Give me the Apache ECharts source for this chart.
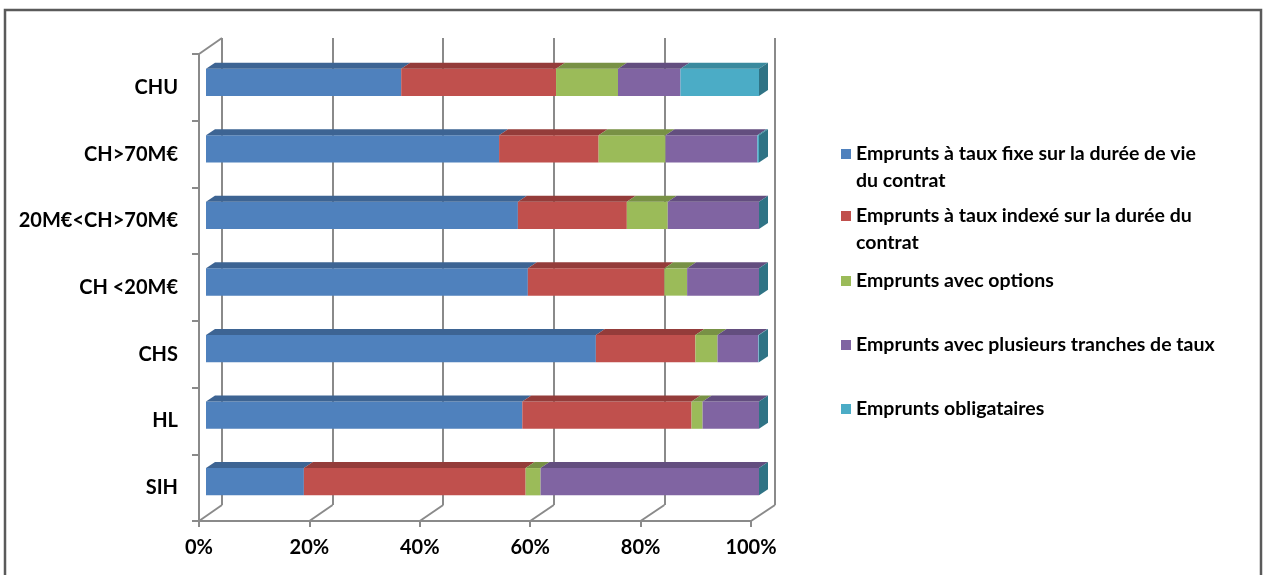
<!DOCTYPE html>
<html>
<head>
<meta charset="utf-8">
<script src="https://cdn.jsdelivr.net/npm/echarts@6/dist/echarts.min.js"></script>
<style>
  html, body { margin: 0; padding: 0; background: #fff; }
  #chart { width: 1263px; height: 575px; }
</style>
</head>
<body>
<div id="chart"></div>
<script>
// categories, top to bottom
var categories = ['CHU', 'CH>70M€', '20M€<CH>70M€', 'CH <20M€', 'CHS', 'HL', 'SIH'];

var seriesNames = [
  'Emprunts à taux fixe sur la durée de vie du contrat',
  'Emprunts à taux indexé sur la durée du contrat',
  'Emprunts avec options',
  'Emprunts avec plusieurs tranches de taux',
  'Emprunts obligataires'
];
var legendLabels = [
  'Emprunts à taux fixe sur la durée de vie\ndu contrat',
  'Emprunts à taux indexé sur la durée du\ncontrat',
  'Emprunts avec options',
  'Emprunts avec plusieurs tranches de taux',
  'Emprunts obligataires'
];

// shares in %, same order as categories
var tauxFixe     = [35.3, 53.0, 56.4, 58.2, 70.5, 57.2, 17.7];
var tauxIndexe   = [28.0, 18.0, 19.7, 24.7, 18.0, 30.6, 40.1];
var avecOptions  = [11.2, 12.1,  7.4,  4.1,  4.0,  2.0,  2.7];
var plusTranches = [11.3, 16.6, 16.5, 13.0,  7.4, 10.2, 39.5];
var obligataires = [14.2,  0.3,  0.0,  0.0,  0.1,  0.0,  0.0];

var xTicks = [0, 20, 40, 60, 80, 100];

var allValues = [tauxFixe, tauxIndexe, avecOptions, plusTranches, obligataires];
var frontColors = ['#4f81bd', '#c0504d', '#9bbb59', '#8064a2', '#4bacc6'];
var topColors   = ['#3d6493', '#943c3a', '#789145', '#634e7f', '#3a8a9e'];
var sideColor   = '#2f7385';
var DX = 9, DY = 6;

var font = 'Lato, "Open Sans", sans-serif';
var gridColor = '#8a8a8a';

// cumulative start/end per segment
var cum = categories.map(function () { return 0; });
var segData = allValues.map(function (vals) {
  return vals.map(function (v, c) {
    var s = cum[c];
    cum[c] += v;
    return [s, cum[c], c];
  });
});

function makeRender(idx) {
  return function (params, api) {
    var a = api.coord([api.value(0), api.value(2)]);
    var b = api.coord([api.value(1), api.value(2)]);
    var h = api.size([0, 1])[1] * 0.41;
    var yt = a[1] - h / 2, yb = a[1] + h / 2;
    var kids = [];
    if (b[0] - a[0] > 0.01) {
      kids.push({ type: 'rect', shape: { x: a[0], y: yt, width: b[0] - a[0], height: h },
        style: { fill: frontColors[idx] } });
      kids.push({ type: 'polygon',
        shape: { points: [[a[0], yt], [b[0], yt], [b[0] + DX, yt - DY], [a[0] + DX, yt - DY]] },
        style: { fill: topColors[idx] } });
    }
    if (idx === allValues.length - 1) {
      kids.push({ type: 'polygon',
        shape: { points: [[b[0], yt], [b[0] + DX, yt - DY], [b[0] + DX, yb - DY], [b[0], yb]] },
        style: { fill: sideColor } });
    }
    return { type: 'group', children: kids };
  };
}

var legendCenters = [154, 216, 281, 345, 409];

var chart = echarts.init(document.getElementById('chart'));

var option = {
  animation: false,
  backgroundColor: '#fff',
  grid: [
    { left: 206, top: 49, width: 553, height: 466 },   // bars
    { left: 222, top: 38, width: 553, height: 467 },   // back wall
    { left: 199, top: 54, width: 552, height: 467 }    // front plane axes
  ],
  xAxis: [
    { gridIndex: 0, type: 'value', min: 0, max: 100, show: false },
    { gridIndex: 1, type: 'value', min: 0, max: 100, interval: 20,
      axisLine: { show: false }, axisTick: { show: false }, axisLabel: { show: false },
      splitLine: { show: true, lineStyle: { color: gridColor, width: 2 } } },
    { gridIndex: 2, type: 'value', min: 0, max: 100, interval: 20,
      splitLine: { show: false },
      axisLine: { show: true, lineStyle: { color: gridColor, width: 2 } },
      axisTick: { show: true, length: 6, lineStyle: { color: gridColor, width: 2 } },
      axisLabel: { margin: 17, color: '#000', fontFamily: font, fontWeight: 'bold', fontSize: 20,
        formatter: function (v) { return v + '%'; } } }
  ],
  yAxis: [
    { gridIndex: 0, type: 'category', data: categories, inverse: true, show: false },
    { gridIndex: 1, type: 'category', data: categories, inverse: true, show: false },
    { gridIndex: 2, type: 'category', data: categories, inverse: true,
      axisLine: { show: true, lineStyle: { color: gridColor, width: 2 } },
      axisTick: { show: true, length: 7, lineStyle: { color: gridColor, width: 2 } },
      axisLabel: { margin: 21, color: '#000', fontFamily: font, fontWeight: 'bold', fontSize: 20,
        padding: [3, 0, 0, 0] } }
  ],
  legend: seriesNames.map(function (n, i) {
    var two = legendLabels[i].indexOf('\n') >= 0;
    return {
      data: [n], left: 841, top: legendCenters[i] - (two ? 40.5 : 13.5),
      orient: 'vertical', padding: 0, itemWidth: 10, itemHeight: 10, icon: 'rect',
      selectedMode: false,
      // leading blank line keeps the marker level with the first text line
      formatter: function () { return two ? ' \n' + legendLabels[i] : legendLabels[i]; },
      textStyle: { fontFamily: font, fontWeight: 'bold', fontSize: 19.5, lineHeight: 27, color: '#000' }
    };
  }),
  series: seriesNames.map(function (n, i) {
    return {
      name: n, type: 'custom', xAxisIndex: 0, yAxisIndex: 0,
      itemStyle: { color: frontColors[i] },
      encode: { x: [0, 1], y: 2 },
      renderItem: makeRender(i),
      data: segData[i]
    };
  })
};

chart.setOption(option);

// 3D wall edges (floor diagonals, left wall top) from the axes' own pixel positions
var lines = [];
xTicks.forEach(function (t) {
  var f = chart.convertToPixel({ xAxisIndex: 2, yAxisIndex: 2 }, [t, categories.length - 0.5]);
  var bx = chart.convertToPixel({ xAxisIndex: 1 }, t);
  lines.push([f[0], 521, bx, 505]);
});
lines.push([199, 54, 222, 38]);

chart.setOption({
  graphic: lines.map(function (l) {
    return { type: 'line', shape: { x1: l[0], y1: l[1], x2: l[2], y2: l[3] },
      style: { stroke: gridColor, lineWidth: 2 }, silent: true };
  }).concat([{
    type: 'rect', shape: { x: 5, y: 10, width: 1256, height: 600 },
    style: { fill: 'none', stroke: '#5a5a5a', lineWidth: 2.5 }, silent: true
  }])
});
</script>
</body>
</html>
